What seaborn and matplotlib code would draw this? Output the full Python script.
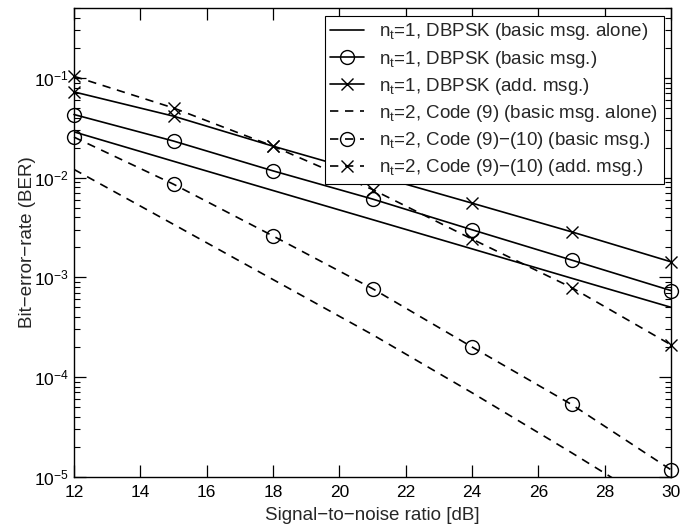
import numpy as np
import pandas as pd
import seaborn as sns
import matplotlib
matplotlib.use("Agg")
import matplotlib.pyplot as plt
from matplotlib.ticker import LogLocator, NullFormatter

# SNR [dB]
snr = [12, 15, 18, 21, 24, 27, 30]

# n_t = 1, DBPSK
ber_nt1_alone = [0.0288, 0.0146, 0.00743, 0.00379, 0.00193, 0.00098, 0.00050]
ber_nt1_basic = [0.0430, 0.0233, 0.0117, 0.0061, 0.0030, 0.00149, 0.000736]
ber_nt1_add = [0.0725, 0.0414, 0.0207, 0.0107, 0.00555, 0.00286, 0.00143]

# n_t = 2, Code (9) / Code (9)-(10)
ber_nt2_alone = [0.0121, 0.0034, 0.00095, 0.000266, 0.0000695, 0.0000174, 0.0000042]
ber_nt2_basic = [0.0255, 0.0086, 0.0026, 0.00077, 0.00020, 0.000053, 0.0000117]
ber_nt2_add = [0.104, 0.050, 0.0207, 0.0076, 0.00242, 0.00079, 0.00021]

labels = [
    r"n$_{\mathregular{t}}$=1, DBPSK (basic msg. alone)",
    r"n$_{\mathregular{t}}$=1, DBPSK (basic msg.)",
    r"n$_{\mathregular{t}}$=1, DBPSK (add. msg.)",
    r"n$_{\mathregular{t}}$=2, Code (9) (basic msg. alone)",
    r"n$_{\mathregular{t}}$=2, Code (9)−(10) (basic msg.)",
    r"n$_{\mathregular{t}}$=2, Code (9)−(10) (add. msg.)",
]

sns.set_style("ticks")
plt.rcParams["font.family"] = ["Liberation Sans", "DejaVu Sans"]
plt.rcParams["mathtext.fontset"] = "custom"
plt.rcParams["mathtext.rm"] = "Liberation Sans"
plt.rcParams["mathtext.default"] = "regular"

fig = plt.figure(figsize=(6.94, 5.29), dpi=100)
ax = fig.add_axes([0.1066, 0.0989, 0.8604, 0.8854])

dash = (0, (5, 4))
series = [
    (ber_nt1_alone, "-", None),
    (ber_nt1_basic, "-", "o"),
    (ber_nt1_add, "-", "x"),
    (ber_nt2_alone, dash, None),
    (ber_nt2_basic, dash, "o"),
    (ber_nt2_add, dash, "x"),
]

for (vals, ls, mk), lab in zip(series, labels):
    df = pd.DataFrame({"snr": snr, "ber": vals})
    kw = dict(markersize=10 if mk == "o" else 8, markerfacecolor="none",
              markeredgecolor="k", markeredgewidth=1.0) if mk else {}
    # markers at the axes edges are drawn whole, plain lines are clipped
    sns.lineplot(data=df, x="snr", y="ber", ax=ax, color="k", linewidth=1.2,
                 linestyle=ls, marker=mk, label=lab, clip_on=mk is None,
                 **kw)

ax.set_yscale("log")
ax.set_xlim(12, 30)
ax.set_ylim(1e-5, 0.5)
ax.set_xticks(np.arange(12, 31, 2))
ax.yaxis.set_major_locator(LogLocator(base=10, numticks=10))
ax.yaxis.set_minor_locator(LogLocator(base=10, subs=np.arange(2, 10), numticks=20))
ax.yaxis.set_minor_formatter(NullFormatter())

ax.tick_params(which="both", direction="in", top=True, right=True,
               colors="k", labelsize=12.5)
ax.tick_params(which="major", length=8.5, width=0.9)
ax.tick_params(which="minor", length=4.3, width=0.8)
ax.tick_params(axis="x", pad=6)
for sp in ax.spines.values():
    sp.set_linewidth(1.0)
    sp.set_color("k")

ax.set_xlabel("Signal−to−noise ratio [dB]", fontsize=13.5, labelpad=5)
ax.set_ylabel("Bit−error−rate (BER)", fontsize=13.5)
ax.yaxis.set_label_coords(-0.064, 0.5)

leg = ax.legend(loc="upper right", fontsize=13.5, handlelength=1.8,
                handletextpad=0.8, labelspacing=0.33, borderpad=0.3,
                fancybox=False, framealpha=1, edgecolor="k",
                borderaxespad=0.4)
leg.get_frame().set_linewidth(0.8)

fig.savefig("out.png", dpi=100)
